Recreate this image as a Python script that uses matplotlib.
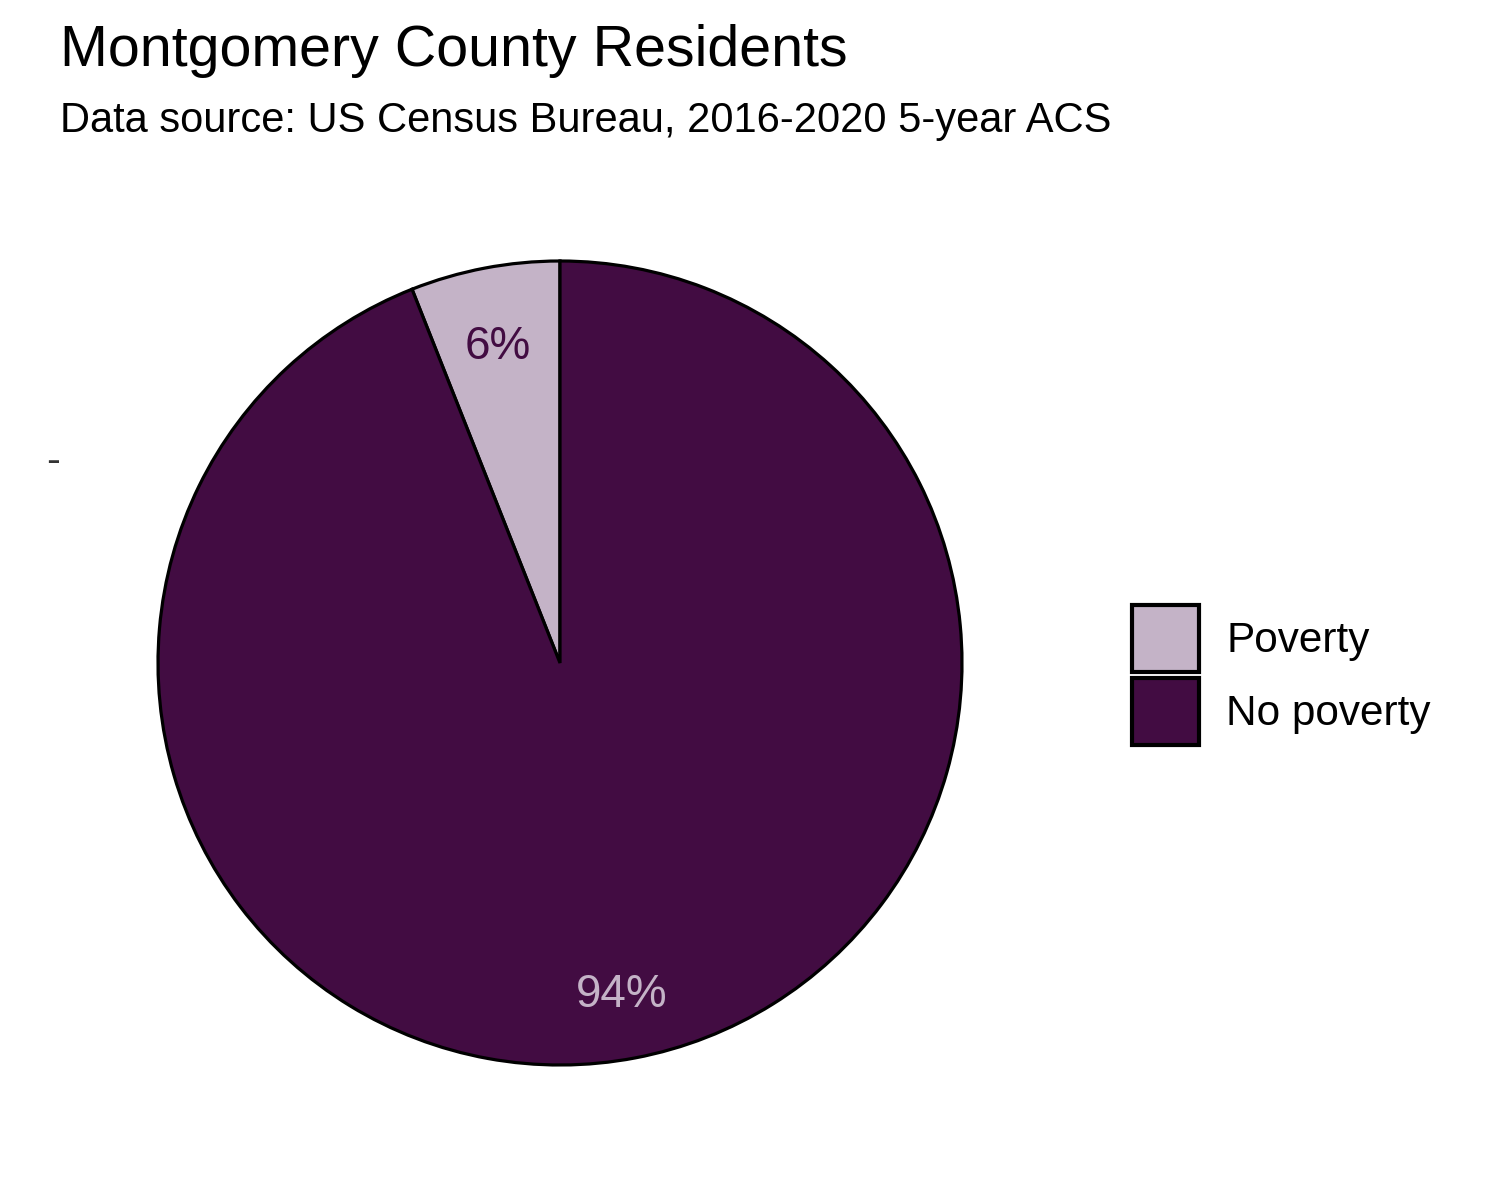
import matplotlib
matplotlib.use("Agg")
import matplotlib.pyplot as plt
import numpy as np

plt.rcParams['font.family'] = ['Liberation Sans', 'DejaVu Sans']

categories = ["Poverty", "No poverty"]
values = [6, 94]
labels = ["6%", "94%"]
fill_colors = ["#C4B3C7", "#420C42"]
label_colors = ["#420C42", "#C4B3C7"]

fig = plt.figure(figsize=(15, 12), dpi=100)
W, H = 1500, 1200
cx, cy, r = 560, 663, 402
ax = fig.add_axes([(cx - r) / W, (H - cy - r) / H, 2 * r / W, 2 * r / H])
wedges, _ = ax.pie(values, colors=fill_colors, startangle=90, counterclock=True,
                   radius=1.0, wedgeprops=dict(edgecolor="black", linewidth=2.3),
                   labels=None)
start = 90.0
total = sum(values)
for v, lab, col in zip(values, labels, label_colors):
    mid = np.deg2rad(start + 360 * v / total / 2)
    start += 360 * v / total
    ax.text(0.82 * np.cos(mid), 0.82 * np.sin(mid) - 0.008, lab, ha="center",
            va="center_baseline", fontsize=33, color=col)
ax.set_xlim(-1, 1)
ax.set_ylim(-1, 1)
ax.set_aspect("equal")
ax.axis("off")

fig.text(60 / W, 1 - 66 / H, "Montgomery County Residents", fontsize=41.3,
         ha="left", va="baseline", color="black")
fig.text(60 / W, 1 - 132 / H, "Data source: US Census Bureau, 2016-2020 5-year ACS",
         fontsize=30, ha="left", va="baseline", color="black")
fig.text(53 / W, 1 - 462 / H, "-", fontsize=30, ha="center", va="center", color="#333333")

fs = 30.4
leg = fig.legend(wedges, categories, loc="center left",
                 bbox_to_anchor=(1132 / W, 1 - 675 / H), frameon=False, fontsize=fs,
                 handlelength=1.56 * 31 / fs, handleheight=2.05, labelspacing=0.14,
                 handletextpad=0.64, borderpad=0, borderaxespad=0)
for h in leg.legend_handles:
    h.set_linewidth(3)

fig.savefig("out.png", dpi=100, facecolor="white")
